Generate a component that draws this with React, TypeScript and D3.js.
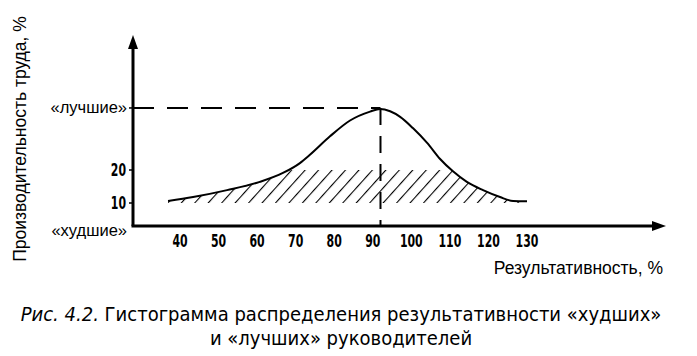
import React from "react";
import * as d3 from "d3";

const xTicks = [40, 50, 60, 70, 80, 90, 100, 110, 120, 130];
const yTicks = [10, 20];
const curveX = [36.9, 43.4, 52.2, 60.7, 66.7, 71.1, 73.7, 78.9, 84.1, 89.3, 91.9, 94.5, 97.1, 100.4, 104.1, 107.4, 110.8, 114.4, 118.6, 123.0, 126.4, 130.0];
const curveY = [10.6, 11.8, 13.9, 16.4, 19.1, 22.1, 24.6, 30.2, 35.0, 37.7, 38.5, 37.8, 36.1, 32.7, 28.2, 23.4, 19.6, 16.4, 13.9, 11.8, 10.6, 10.5];
const bestLevel = 38.8;
const peakX = 92;
const hatchTop = 20;
const hatchBottom = 10;
const yLabels = ["«лучшие»", "«худшие»"];
const yTitle = "Производительность труда, %";
const xTitle = "Результативность, %";
const captionItalic = "Рис. 4.2.";
const captionLine1 = "Гистограмма распределения результативности «худших»";
const captionLine2 = "и «лучших» руководителей";

export default function App() {
  const W = 697, H = 356;
  const x = d3.scaleLinear().domain([40, 130]).range([180, 527]);
  const y = d3.scaleLinear().domain([10, 20]).range([203, 170]);
  const axisX = 133, axisY = 226, axisTop = 35, axisRight = 666;
  const pts: [number, number][] = curveX.map((v, i) => [v, curveY[i]]);
  const line = d3.line<[number, number]>().x(d => x(d[0])).y(d => y(d[1])).curve(d3.curveMonotoneX);
  const clipArea = d3.area<[number, number]>().x(d => x(d[0])).y0(() => y(hatchBottom)).y1(d => y(d[1])).curve(d3.curveMonotoneX);
  const cond = "'DejaVu Sans Condensed', 'Liberation Sans Narrow', 'Liberation Sans', Arial, sans-serif";
  const sans = "'Liberation Sans', Arial, sans-serif";
  const tickText = (t: number, px: number, py: number, anchor: string) => {
    const s = String(t);
    return (
      <text key={`t${t}`} x={px} y={py} dy="0.36em" textAnchor={anchor} fontFamily={cond} fontSize={17} fontWeight="bold"
        textLength={s.length * 7.6} lengthAdjust="spacingAndGlyphs">{s}</text>
    );
  };
  return (
    <svg width={W} height={H} style={{ position: "absolute", left: 0, top: 0, background: "#fff" }}>
      <defs>
        <pattern id="hatch" patternUnits="userSpaceOnUse" width={10} height={10} patternTransform="rotate(42)">
          <line x1={0} y1={-2} x2={0} y2={12} stroke="#000" strokeWidth={2.2} />
        </pattern>
        <clipPath id="band">
          <rect x={0} y={y(hatchTop)} width={W} height={y(hatchBottom) - y(hatchTop)} />
        </clipPath>
      </defs>
      <g clipPath="url(#band)">
        <path d={clipArea(pts) || ""} fill="url(#hatch)" />
      </g>
      <path d={line(pts) || ""} fill="none" stroke="#000" strokeWidth={2} />
      <line x1={axisX} y1={y(bestLevel)} x2={x(peakX)} y2={y(bestLevel)} stroke="#000" strokeWidth={2} strokeDasharray="21 13" />
      <line x1={x(peakX)} y1={y(bestLevel)} x2={x(peakX)} y2={axisY} stroke="#000" strokeWidth={2} strokeDasharray="17 11" />
      <line x1={axisX} y1={axisY} x2={axisX} y2={axisTop + 8} stroke="#000" strokeWidth={3} />
      <path d={`M${axisX - 5},${axisTop + 14} L${axisX},${axisTop} L${axisX + 5},${axisTop + 14} Z`} fill="#000" />
      <line x1={axisX - 1.5} y1={axisY} x2={axisRight - 8} y2={axisY} stroke="#000" strokeWidth={3} />
      <path d={`M${axisRight - 14},${axisY - 5} L${axisRight},${axisY} L${axisRight - 14},${axisY + 5} Z`} fill="#000" />
      {yTicks.map(t => (
        <g key={t}>
          <line x1={axisX - 4} x2={axisX} y1={y(t)} y2={y(t)} stroke="#000" strokeWidth={1.5} />
          {tickText(t, axisX - 7, y(t), "end")}
        </g>
      ))}
      <line x1={axisX - 4} x2={axisX} y1={y(bestLevel)} y2={y(bestLevel)} stroke="#000" strokeWidth={1.5} />
      <text x={127} y={y(bestLevel)} dy="0.33em" textAnchor="end" fontFamily={sans} fontSize={16.5}>{yLabels[0]}</text>
      <text x={127} y={231} dy="0.33em" textAnchor="end" fontFamily={sans} fontSize={16.5}>{yLabels[1]}</text>
      {xTicks.map(t => tickText(t, x(t), 241, "middle"))}
      <text x={663} y={268} dy="0.36em" textAnchor="end" fontFamily={sans} fontSize={17.5}>{xTitle}</text>
      <text transform="translate(20,139) rotate(-90)" textAnchor="middle" dy="0.36em" fontFamily={sans} fontSize={17.5}>{yTitle}</text>
      <text x={341} y={314} dy="0.36em" textAnchor="middle" fontFamily={cond} fontSize={20}>
        <tspan fontStyle="italic">{captionItalic}</tspan> {captionLine1}
      </text>
      <text x={341} y={338} dy="0.36em" textAnchor="middle" fontFamily={cond} fontSize={20}>{captionLine2}</text>
    </svg>
  );
}
